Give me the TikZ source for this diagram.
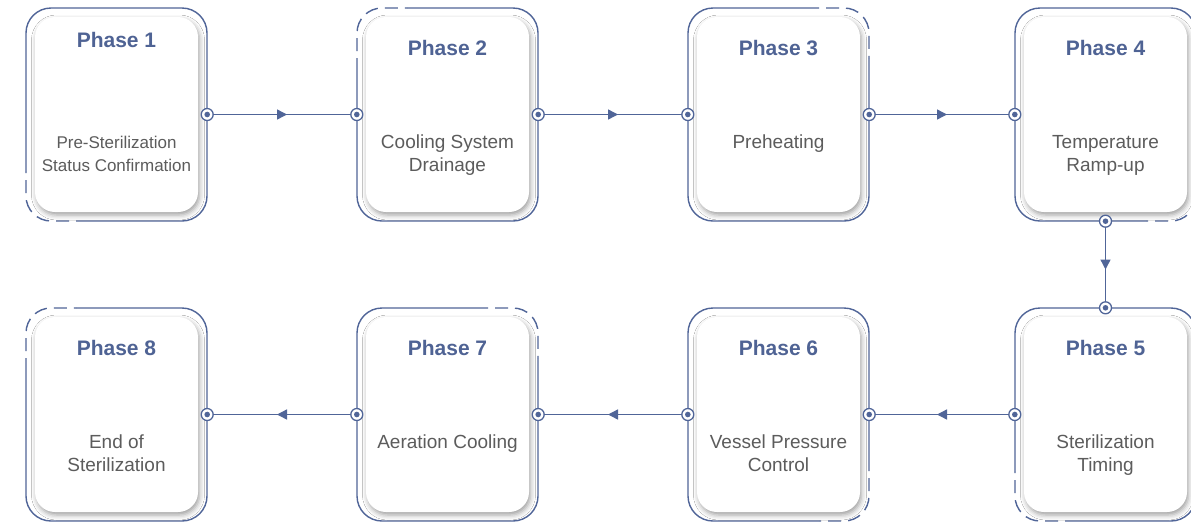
\documentclass[tikz,border=0pt]{standalone}
\usepackage{fontspec}
\setmainfont{Liberation Sans}
\usetikzlibrary{shadows.blur,decorations.markings,arrows.meta}
\definecolor{frameblue}{RGB}{80,101,152}
\definecolor{titleblue}{RGB}{79,99,148}
\definecolor{bodygray}{RGB}{92,92,92}
\tikzset{
 frame/.style={draw=frameblue, line width=1.4pt, rounded corners=25pt},
 dashpart/.style={dash pattern=on 13pt off 7pt, dash phase=13pt},
 outer/.style={rectangle, minimum width=181pt, minimum height=213pt, inner sep=0pt},
 card/.style={rectangle, rounded corners=20pt, fill=white, minimum width=163pt, minimum height=195pt, inner sep=0pt,
   blur shadow={shadow xshift=1.5pt, shadow yshift=-3pt, shadow blur radius=5pt, shadow opacity=38}},
 title/.style={font=\bfseries\fontsize{21}{25}\selectfont, text=titleblue, anchor=base},
 body/.style={font=\fontsize{19}{23}\selectfont, text=bodygray, align=center, anchor=base},
 twoline/.style={yshift=-23pt},
 smallbody/.style={font=\fontsize{17}{23}\selectfont, yshift=-23pt},
 port/.style={circle, draw=frameblue, fill=white, line width=1.3pt, minimum size=12pt, inner sep=0pt,
   path picture={\fill[frameblue] (path picture bounding box.center) circle (2.8pt);}},
 conn/.style={draw=frameblue, line width=1.4pt, postaction={decorate},
   decoration={markings, mark=at position 0.5 with {\arrow[xshift=5pt]{Triangle[length=10pt,width=10pt]}}}},
}
% #1 name, #2 cx, #3 cy, #4 dashed corner (0 TL,1 TR,2 BR,3 BL), #5 title, #6 body, #7 title baseline offset, #8 body style
\newcommand\phasebox[8]{%
  \node[outer] (#1) at (#2,#3) {};
  \pgfmathsetmacro\xa{#2-90.5}\pgfmathsetmacro\xb{#2+90.5}%
  \pgfmathsetmacro\ya{#3-106.5}\pgfmathsetmacro\yb{#3+106.5}%
  \ifcase#4\relax
   \draw[frame] (\xa+50,\ya) -- (\xb,\ya) -- (\xb,\yb) -- (\xa,\yb) -- (\xa,\ya+50);
   \draw[frame,dashpart] (\xa,\ya+50) -- (\xa,\ya) -- (\xa+50,\ya);
  \or
   \draw[frame] (\xb,\ya+50) -- (\xb,\yb) -- (\xa,\yb) -- (\xa,\ya) -- (\xb-50,\ya);
   \draw[frame,dashpart] (\xb-50,\ya) -- (\xb,\ya) -- (\xb,\ya+50);
  \or
   \draw[frame] (\xb-50,\yb) -- (\xa,\yb) -- (\xa,\ya) -- (\xb,\ya) -- (\xb,\yb-50);
   \draw[frame,dashpart] (\xb,\yb-50) -- (\xb,\yb) -- (\xb-50,\yb);
  \or
   \draw[frame] (\xa,\yb-50) -- (\xa,\ya) -- (\xb,\ya) -- (\xb,\yb) -- (\xa+50,\yb);
   \draw[frame,dashpart] (\xa+50,\yb) -- (\xa,\yb) -- (\xa,\yb-50);
  \fi
  \node[card] (#1c) at (#2,#3) {};
  \node[title] (#1t) at (#2,\ya+#7) {#5};
  \node[body,#8] (#1b) at (#2,\ya+140) {#6};
}
\begin{document}
\begin{tikzpicture}[x=1pt,y=-1pt]
\useasboundingbox[fill=white] (0,0) rectangle (1191,523);
\phasebox{p1}{116.5}{114.5}{3}{Phase 1}{Pre-Sterilization\\Status Confirmation}{39}{smallbody}
\phasebox{p2}{447.5}{114.5}{0}{Phase 2}{Cooling System\\Drainage}{47}{twoline}
\phasebox{p3}{778.5}{114.5}{1}{Phase 3}{Preheating}{47}{}
\phasebox{p4}{1105.5}{114.5}{2}{Phase 4}{Temperature\\Ramp-up}{47}{twoline}
\phasebox{p5}{1105.5}{414.5}{3}{Phase 5}{Sterilization\\Timing}{47}{twoline}
\phasebox{p6}{778.5}{414.5}{2}{Phase 6}{Vessel Pressure\\Control}{47}{twoline}
\phasebox{p7}{447.5}{414.5}{1}{Phase 7}{Aeration Cooling}{47}{}
\phasebox{p8}{116.5}{414.5}{0}{Phase 8}{End of\\Sterilization}{47}{twoline}
% ports
\node[port] (p1e) at (p1.east) {};
\node[port] (p2w) at (p2.west) {};
\node[port] (p2e) at (p2.east) {};
\node[port] (p3w) at (p3.west) {};
\node[port] (p3e) at (p3.east) {};
\node[port] (p4w) at (p4.west) {};
\node[port] (p4s) at (p4.south) {};
\node[port] (p5n) at (p5.north) {};
\node[port] (p5w) at (p5.west) {};
\node[port] (p6e) at (p6.east) {};
\node[port] (p6w) at (p6.west) {};
\node[port] (p7e) at (p7.east) {};
\node[port] (p7w) at (p7.west) {};
\node[port] (p8e) at (p8.east) {};
% connectors
\draw[conn] (p1e) -- (p2w);
\draw[conn] (p2e) -- (p3w);
\draw[conn] (p3e) -- (p4w);
\draw[conn] (p4s) -- (p5n);
\draw[conn] (p5w) -- (p6e);
\draw[conn] (p6w) -- (p7e);
\draw[conn] (p7w) -- (p8e);
\end{tikzpicture}
\end{document}
